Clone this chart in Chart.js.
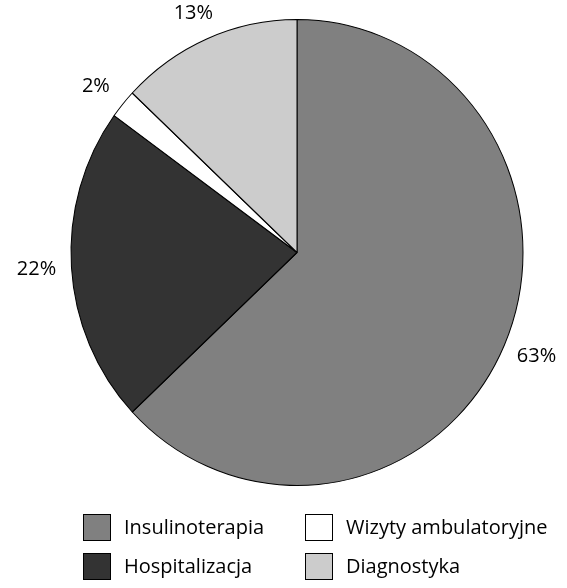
<!DOCTYPE html>
<html>
<head>
<meta charset="utf-8">
<script src="https://cdn.jsdelivr.net/npm/chart.js@4"></script>
<style>
  html, body { margin: 0; padding: 0; background: #fff; }
  #wrap { position: relative; width: 567px; height: 588px; overflow: hidden; }
  #pie { position: absolute; left: 0; top: 0; }
  .leg { position: absolute; font-family: "Open Sans", sans-serif; font-size: 20px; color: #000; white-space: nowrap; }
  .leg .box { position: absolute; left: 0; top: 0; width: 28px; height: 27px; border: 1px solid #000; box-sizing: border-box; }
  .leg .txt { position: absolute; left: 41px; top: -1px; line-height: 27px; }
</style>
</head>
<body>
<div id="wrap">
  <canvas id="pie" width="567" height="588"></canvas>
  <div id="legend"></div>
</div>
<script>
// data, clockwise from 12 o'clock
const categories = ['Insulinoterapia', 'Hospitalizacja', 'Wizyty ambulatoryjne', 'Diagnostyka'];
const shares = [63, 22, 2, 13];
const sliceColors = ['#808080', '#333333', '#ffffff', '#cccccc'];

// legend grid: [category index, left, top]
const legendSlots = [[0, 83, 514], [2, 305, 514], [1, 83, 553], [3, 305, 553]];

// pie in the picture is a bit taller than wide
const stretchY = 233 / 226;
const labelDist = 261;

const ellipsePlugin = {
    id: 'ellipse',
    beforeDatasetsDraw(chart) {
        const arc = chart.getDatasetMeta(0).data[0];
        const ctx = chart.ctx;
        ctx.save();
        ctx.translate(arc.x, arc.y);
        ctx.scale(1, stretchY);
        ctx.translate(-arc.x, -arc.y);
    },
    afterDatasetsDraw(chart) {
        chart.ctx.restore();
    }
};

const percentLabels = {
    id: 'percentLabels',
    afterDraw(chart) {
        const ctx = chart.ctx;
        ctx.save();
        ctx.font = '20px "Open Sans", sans-serif';
        ctx.fillStyle = '#000';
        ctx.textAlign = 'center';
        ctx.textBaseline = 'middle';
        chart.getDatasetMeta(0).data.forEach((arc, i) => {
            const mid = (arc.startAngle + arc.endAngle) / 2;
            const x = arc.x + Math.cos(mid) * labelDist;
            const y = arc.y + Math.sin(mid) * labelDist;
            ctx.fillText(shares[i] + '%', x, y);
        });
        ctx.restore();
    }
};

new Chart(document.getElementById('pie'), {
    type: 'pie',
    data: {
        labels: categories,
        datasets: [{
            data: shares,
            backgroundColor: sliceColors,
            borderColor: '#000',
            borderWidth: 1,
            borderAlign: 'center'
        }]
    },
    options: {
        responsive: false,
        animation: false,
        layout: { padding: { left: 70, right: 43, top: 26, bottom: 109 } },
        plugins: {
            legend: { display: false },
            tooltip: { enabled: false }
        }
    },
    plugins: [ellipsePlugin, percentLabels]
});

// legend built from the same arrays
const legendEl = document.getElementById('legend');
legendSlots.forEach(([i, left, top]) => {
    const item = document.createElement('div');
    item.className = 'leg';
    item.style.left = left + 'px';
    item.style.top = top + 'px';
    item.innerHTML = `<div class="box" style="background:${sliceColors[i]}"></div><div class="txt">${categories[i]}</div>`;
    legendEl.appendChild(item);
});
</script>
</body>
</html>
